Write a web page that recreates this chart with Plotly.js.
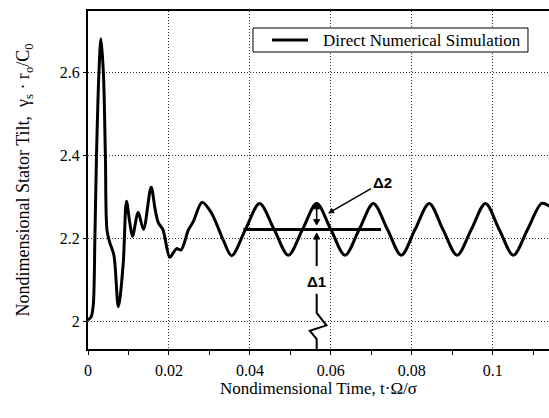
<!DOCTYPE html>
<html>
<head>
<meta charset="utf-8">
<script src="https://cdn.plot.ly/plotly-3.0.1.min.js"></script>
<style>html,body{margin:0;padding:0;background:#fff;}#chart{width:549px;height:418px;}</style>
</head>
<body>
<div id="chart"></div>
<script>
// Data
var timeValues = [0, 0.0008, 0.0013, 0.0017, 0.0021, 0.0027, 0.0032, 0.0038, 0.0043, 0.0047,
  0.0054, 0.0064, 0.0075, 0.0087, 0.0095, 0.0103, 0.011, 0.0124, 0.0137, 0.0156,
  0.0166, 0.0174, 0.0185, 0.0202, 0.0212, 0.0219, 0.023, 0.0248, 0.026, 0.0282,
  0.0305, 0.0334, 0.0355, 0.0389, 0.0424, 0.046, 0.0495, 0.053, 0.0565, 0.06,
  0.0635, 0.067, 0.0705, 0.074, 0.0774, 0.0808, 0.0843, 0.0877, 0.0912, 0.0947,
  0.0982, 0.1016, 0.1051, 0.1086, 0.1121, 0.114];
var tiltValues = [2.004, 2.012, 2.04, 2.2, 2.4, 2.6, 2.682, 2.6, 2.4, 2.22,
  2.19, 2.16, 2.036, 2.14, 2.29, 2.24, 2.206, 2.263, 2.223, 2.324,
  2.27, 2.238, 2.222, 2.155, 2.168, 2.176, 2.173, 2.221, 2.241, 2.288,
  2.262, 2.197, 2.159, 2.222, 2.285, 2.222, 2.16, 2.222, 2.285, 2.222,
  2.16, 2.222, 2.285, 2.222, 2.16, 2.222, 2.285, 2.222, 2.16, 2.222,
  2.285, 2.222, 2.16, 2.222, 2.285, 2.278];
var seriesName = 'Direct Numerical Simulation';
var xTickVals = [0, 0.02, 0.04, 0.06, 0.08, 0.1];
var xTickText = ['0', '0.02', '0.04', '0.06', '0.08', '0.1'];
var yTickVals = [2, 2.2, 2.4, 2.6];
var yTickText = ['2', '2.2', '2.4', '2.6'];
var meanLevel = 2.222;
var meanLineStart = 0.0384;
var meanLineEnd = 0.0724;
var deltaTime = 0.0565;

var serif = 'Liberation Serif';
var sans = 'Liberation Sans';

// small filled arrowhead (annotation decoration), tip at (x, tip), base at (x, base)
function head(x, tip, base) {
  var hw = 0.00074;
  return {type: 'path', xref: 'x', yref: 'y', fillcolor: '#000', line: {color: '#000', width: 1},
    path: 'M ' + (x - hw) + ',' + base + ' L ' + x + ',' + tip + ' L ' + (x + hw) + ',' + base + ' Z'};
}
function vline(x, y0, y1, w) {
  return {type: 'line', xref: 'x', yref: 'y', x0: x, x1: x, y0: y0, y1: y1, line: {color: '#000', width: w}};
}

var trace = {
  x: timeValues, y: tiltValues, type: 'scatter', mode: 'lines', name: seriesName,
  line: {color: '#000', width: 3, shape: 'spline', smoothing: 0.9}
};

var layout = {
  width: 549, height: 418,
  margin: {l: 88, r: 0, t: 11, b: 69},
  paper_bgcolor: '#fff', plot_bgcolor: '#fff',
  font: {family: serif, color: '#000', size: 16},
  showlegend: false,
  xaxis: {
    range: [0, 0.1139], tickmode: 'array', tickvals: xTickVals, ticktext: xTickText,
    showline: true, linecolor: '#000', linewidth: 2, mirror: true,
    ticks: 'outside', ticklen: 4, tickcolor: '#000', tickwidth: 1, ticklabelstandoff: 2,
    minor: {dtick: 0.01, tick0: 0, ticks: 'outside', ticklen: 4, tickcolor: '#000', showgrid: false},
    showgrid: true, gridcolor: '#333', griddash: '1px,2px', gridwidth: 1,
    zeroline: false, tickfont: {family: serif, size: 16, color: '#000'},
    title: {text: 'Nondimensional Time, t·Ω/σ', font: {family: serif, size: 17, color: '#000'}, standoff: 2}
  },
  yaxis: {
    range: [1.934, 2.749], tickmode: 'array', tickvals: yTickVals, ticktext: yTickText,
    showline: true, linecolor: '#000', linewidth: 2, mirror: false,
    ticks: 'outside', ticklen: 3, tickcolor: '#000', tickwidth: 1,
    showgrid: true, gridcolor: '#333', griddash: '1px,2px', gridwidth: 1,
    zeroline: false, tickfont: {family: serif, size: 16, color: '#000'},
    title: {text: 'Nondimensional Stator Tilt,  γ<sub>s</sub> · r<sub>o</sub>/C<sub>0</sub>', font: {family: serif, size: 18, color: '#000'}, standoff: 25}
  },
  shapes: [
    {type: 'line', xref: 'x', yref: 'y', x0: meanLineStart, x1: meanLineEnd, y0: meanLevel, y1: meanLevel,
     line: {color: '#000', width: 3}},
    // delta-2 double arrow
    vline(deltaTime, 2.240, 2.276, 1.5),
    head(deltaTime, 2.285, 2.272),
    head(deltaTime, 2.233, 2.246),
    // delta-1 arrow from below
    vline(deltaTime, 2.134, 2.205, 2),
    head(deltaTime, 2.2137, 2.199),
    // broken-axis zigzag
    {type: 'path', xref: 'x', yref: 'y',
     path: 'M ' + deltaTime + ',2.067 L ' + deltaTime + ',2.021 L 0.0589,1.991 L 0.0548,1.978 L ' + deltaTime + ',1.958 L ' + deltaTime + ',1.934',
     line: {color: '#000', width: 2}},
    // legend box and sample line
    {type: 'rect', xref: 'paper', yref: 'paper', x0: 0.3579, x1: 0.9544, y0: 0.8787, y1: 0.9497,
     line: {color: '#000', width: 1}, fillcolor: '#fff', layer: 'above'},
    {type: 'line', xref: 'paper', yref: 'paper', x0: 0.3991, x1: 0.4772, y0: 0.9142, y1: 0.9142,
     line: {color: '#000', width: 3}}
  ],
  annotations: [
    {xref: 'paper', yref: 'paper', x: 0.5054, y: 0.9142, xanchor: 'left', yanchor: 'middle',
     text: seriesName, showarrow: false, font: {family: serif, size: 17, color: '#000'}},
    {x: deltaTime, y: 2.096, xref: 'x', yref: 'y', text: '<b>Δ1</b>', showarrow: false,
     font: {family: sans, size: 15, color: '#000'}},
    {x: 0.0593, y: 2.261, xref: 'x', yref: 'y', text: '<b>Δ2</b>', showarrow: true, ax: 54, ay: -31,
     arrowhead: 2, arrowsize: 0.8, arrowwidth: 1.5, arrowcolor: '#000', standoff: 0,
     font: {family: sans, size: 15, color: '#000'}}
  ]
};

Plotly.newPlot('chart', [trace], layout, {displayModeBar: false, staticPlot: true});
</script>
</body>
</html>
